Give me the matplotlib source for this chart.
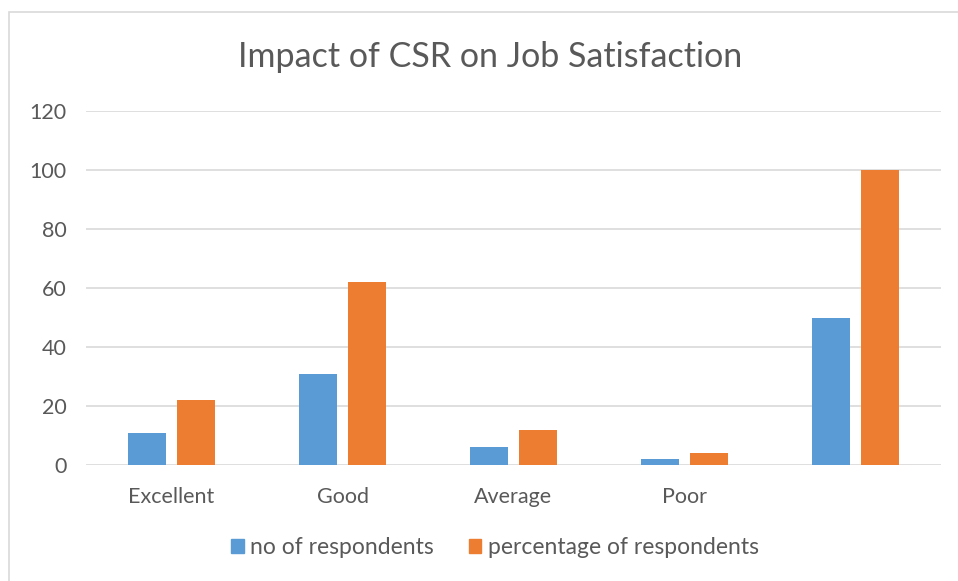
import matplotlib
matplotlib.use("Agg")
import matplotlib.pyplot as plt
from matplotlib.patches import Patch, Rectangle
import numpy as np

categories = ["Excellent", "Good", "Average", "Poor", ""]
no_of_respondents = [11, 31, 6, 2, 50]
pct_of_respondents = [22, 62, 12, 4, 100]
yticks = [0, 20, 40, 60, 80, 100, 120]

blue = "#5b9bd5"
orange = "#ed7d31"
txt = "#595959"
grid_c = "#d9d9d9"

plt.rcParams["font.family"] = ["Lato", "DejaVu Sans"]

fig = plt.figure(figsize=(9.58, 5.81), dpi=100)
# chart border (only top and left edges fall inside the image)
fig.patches.append(Rectangle((9 / 958, -10 / 581), 960 / 958, 579 / 581,
                             transform=fig.transFigure, fill=False,
                             edgecolor="#d9d9d9", linewidth=1.2))

ax = fig.add_axes([86 / 958, 1 - 465 / 581, 855 / 958, 354 / 581])
x = np.arange(len(categories))
w = 0.222
ax.bar(x - 0.143, no_of_respondents, w, color=blue, zorder=3)
ax.bar(x + 0.143, pct_of_respondents, w, color=orange, zorder=3)

ax.set_xlim(-0.5, len(categories) - 0.5)
ax.set_ylim(0, 120)
ax.set_yticks(yticks)
ax.set_xticks(x)
ax.set_xticklabels(categories)
for s in ax.spines.values():
    s.set_visible(False)
ax.yaxis.grid(True, color=grid_c, linewidth=1.2)
ax.set_axisbelow(True)
ax.tick_params(length=0, labelsize=15.5, colors=txt)
ax.tick_params(axis="x", pad=16)
ax.tick_params(axis="y", pad=14)

fig.text(490 / 958, 1 - 67 / 581, "Impact of CSR on Job Satisfaction",
         ha="center", va="baseline", fontsize=24.5, color=txt)

handles = [Patch(color=blue, label="no of respondents"),
           Patch(color=orange, label="percentage of respondents")]
fig.legend(handles=handles, loc="center", bbox_to_anchor=(495 / 958, 1 - 548 / 581),
           ncol=2, frameon=False, fontsize=16.5, labelcolor=txt,
           handlelength=0.55, handleheight=0.55, handletextpad=0.3,
           columnspacing=1.5)

fig.savefig("out.png", dpi=100)
